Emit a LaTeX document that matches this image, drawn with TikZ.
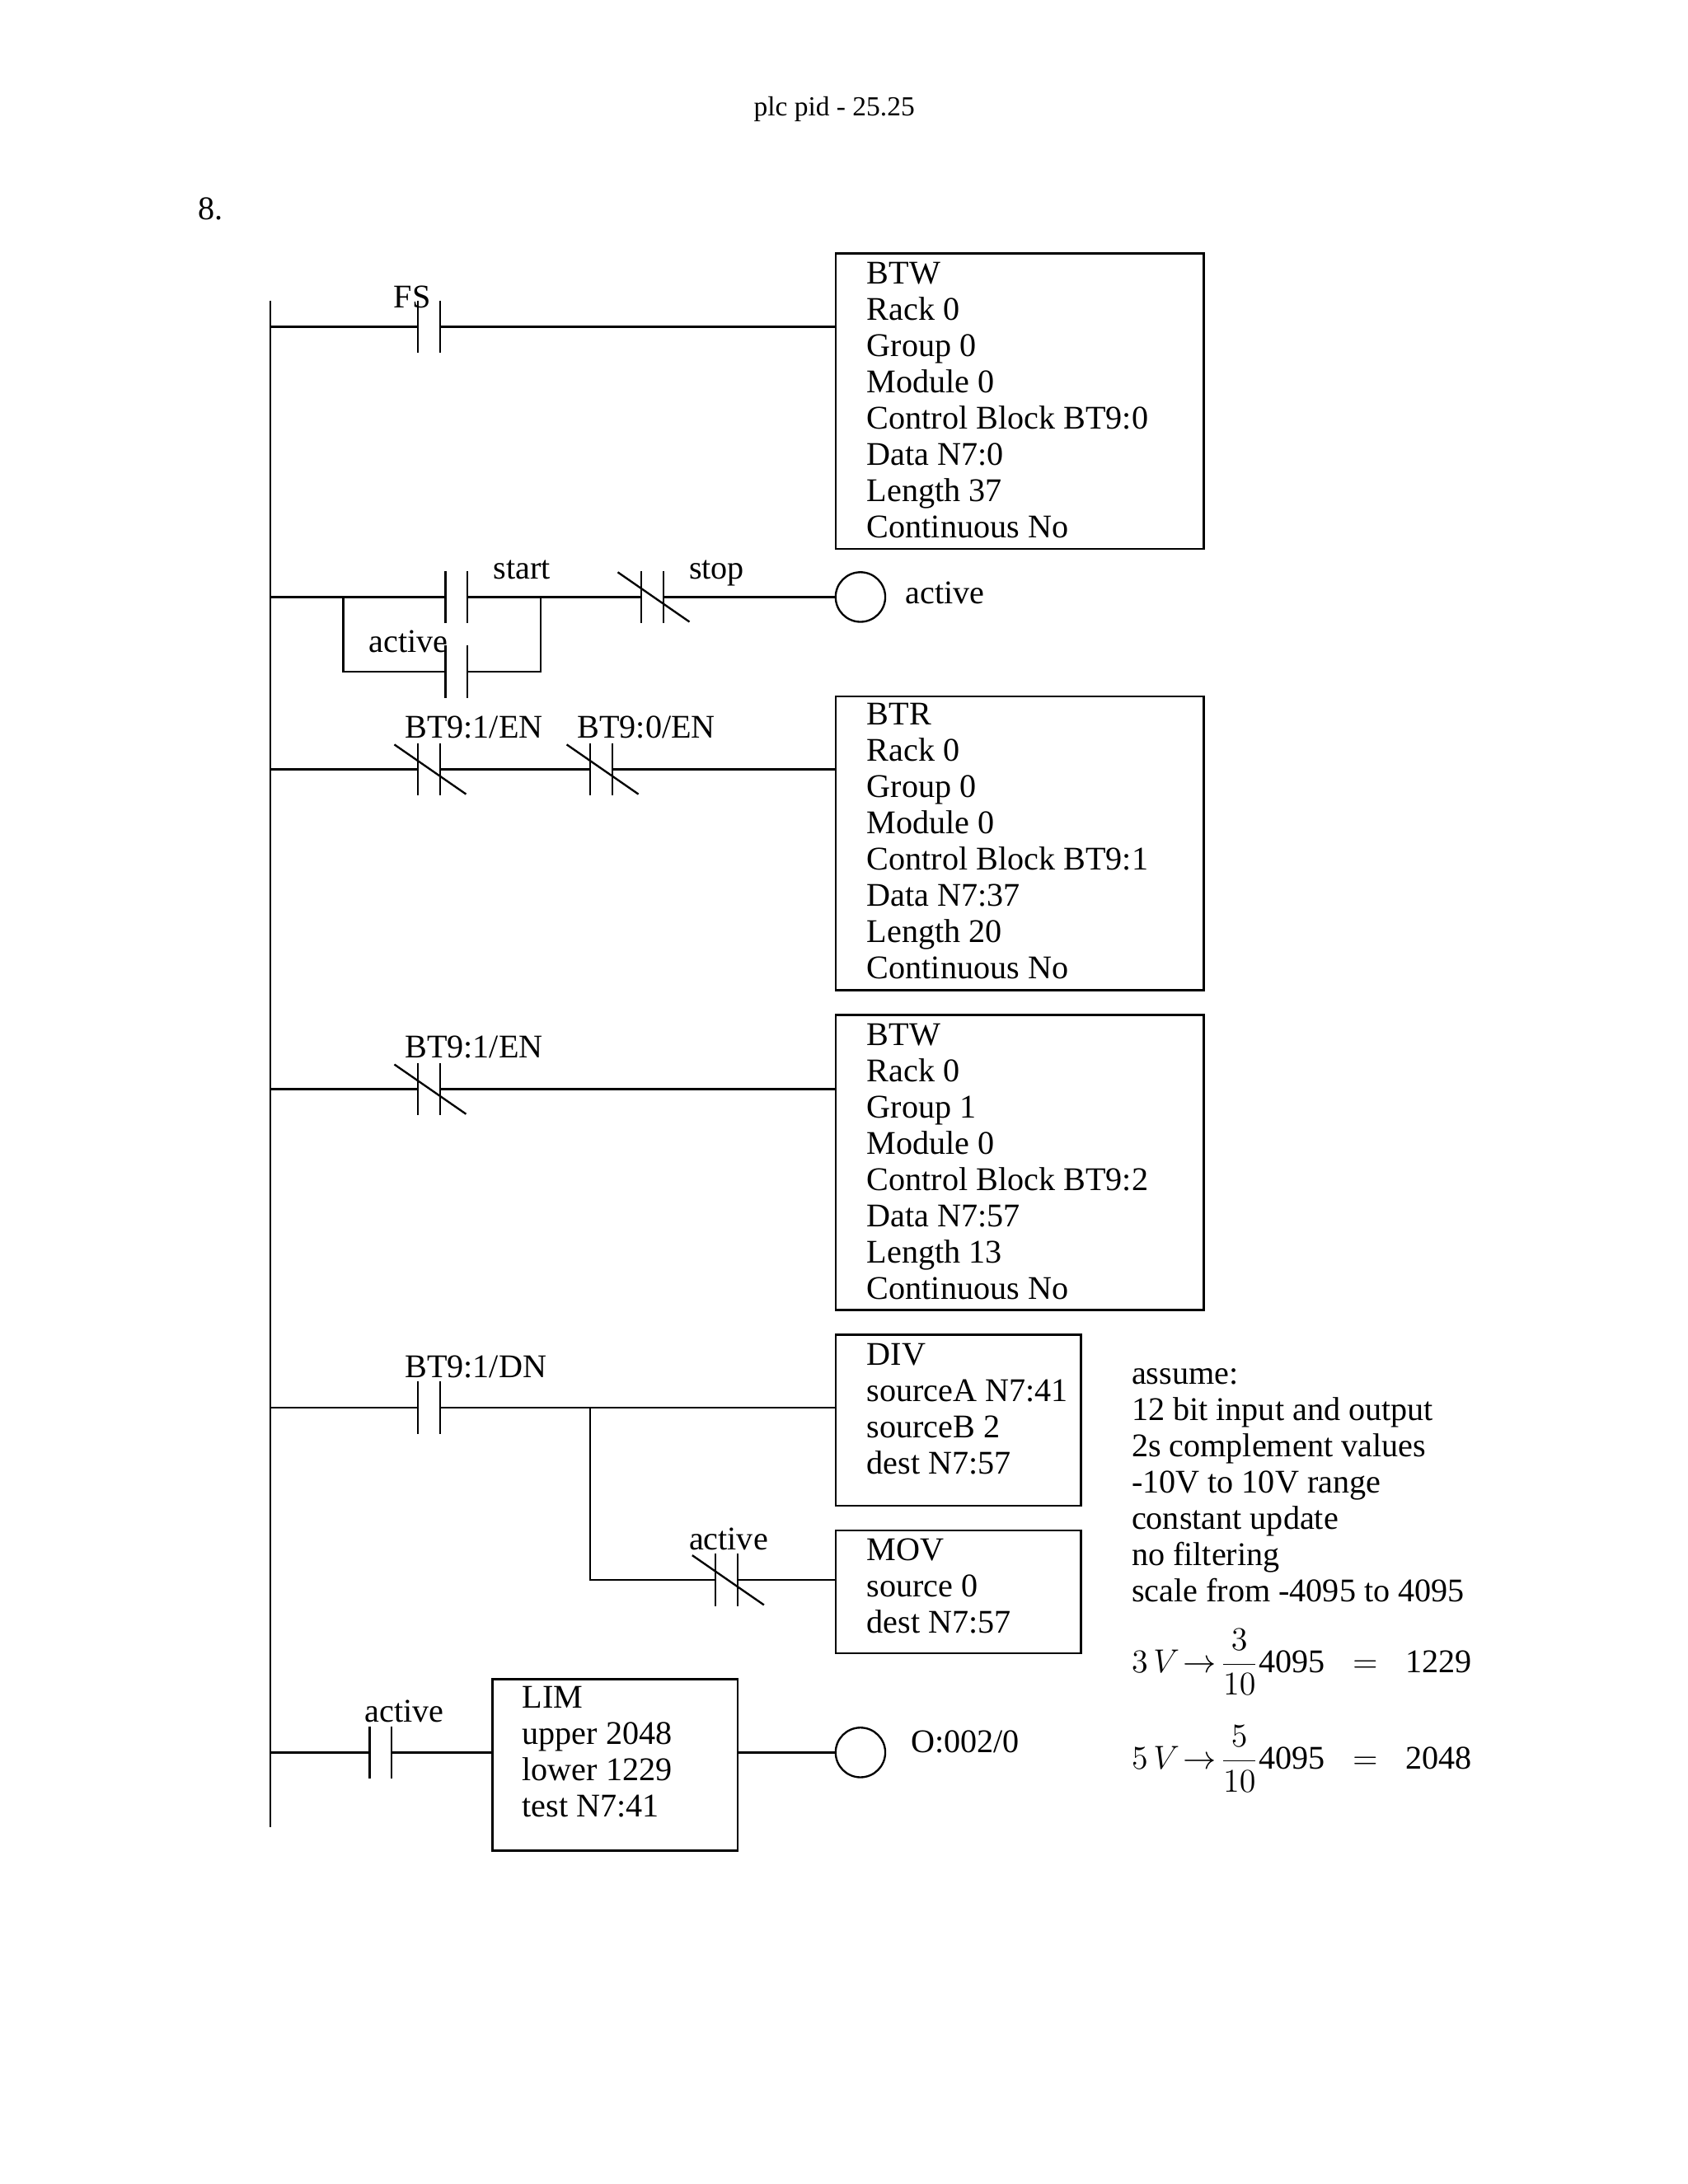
\documentclass[tikz,border=0pt]{standalone}
\usepackage{fontspec}
\setmainfont{Liberation Serif}
\begin{document}
\begin{tikzpicture}[x=0.5pt,y=-0.5pt,line width=0.7pt,
  txt/.style={anchor=base west,inner sep=0pt,font=\fontsize{12}{13.2}\selectfont},
  blk/.style={draw,line width=0.8pt},
  coil/.style={draw,circle,minimum size=18pt,inner sep=0pt}]
\useasboundingbox (0,0) rectangle (1224,1584);
\newcommand\NOc[2]{\draw (#1,#2-19)--(#1,#2+19) (#1+16,#2-19)--(#1+16,#2+19);}
\newcommand\NCc[2]{\NOc{#1}{#2}\draw (#1-17,#2-18)--(#1+35,#2+18);}
\newcommand\boxtext[3]{\foreach \t [count=\i] in {#3} {\node[txt] at (#1,#2+8+26.3*\i-26.3) {\t};}}
\node[font=\fontsize{10}{12}\selectfont,anchor=base] at (605,84) {plc pid - 25.25};
\node[txt] at (143,159) {8.};
% rail
\draw (196,218)--(196,1325);
% rung 1
\NOc{303}{237}
\draw (196,237)--(303,237) (319,237)--(606,237);
\node[txt] at (285,223) {FS};
\draw[blk] (606,184) rectangle (873,398);
\boxtext{628}{198}{BTW,Rack 0,Group 0,Module 0,Control Block BT9:0,Data N7:0,Length 37,Continuous No}
% rung 2
\NOc{323}{433}\NOc{323}{487}\NCc{465}{433}
\draw (196,433)--(323,433) (339,433)--(465,433) (481,433)--(606,433);
\draw (249,433)--(249,487)--(323,487) (339,487)--(392,487)--(392,433);
\node[coil] (c1) at (624,433) {};
\node[txt] at (357,420) {start};
\node[txt] at (499,420) {stop};
\node[txt] at (267,473) {active};
\node[txt] at (656,438) {active};
% rung 3
\NCc{303}{558}\NCc{428}{558}
\draw (196,558)--(303,558) (319,558)--(428,558) (444,558)--(606,558);
\node[txt] at (293,535) {BT9:1/EN};
\node[txt] at (418,535) {BT9:0/EN};
\draw[blk] (606,505) rectangle (873,718);
\boxtext{628}{518}{BTR,Rack 0,Group 0,Module 0,Control Block BT9:1,Data N7:37,Length 20,Continuous No}
% rung 4
\NCc{303}{790}
\draw (196,790)--(303,790) (319,790)--(606,790);
\node[txt] at (293,767) {BT9:1/EN};
\draw[blk] (606,736) rectangle (873,950);
\boxtext{628}{750}{BTW,Rack 0,Group 1,Module 0,Control Block BT9:2,Data N7:57,Length 13,Continuous No}
% rung 5
\NOc{303}{1021}
\draw (196,1021)--(303,1021) (319,1021)--(606,1021);
\node[txt] at (293,999) {BT9:1/DN};
\draw[blk] (606,968) rectangle (784,1092);
\boxtext{628}{982}{DIV,sourceA N7:41,sourceB 2,dest N7:57}
\NCc{519}{1146}
\draw (428,1021)--(428,1146)--(519,1146) (535,1146)--(606,1146);
\node[txt] at (499,1124) {active};
\draw[blk] (606,1110) rectangle (784,1199);
\boxtext{628}{1124}{MOV,source 0,dest N7:57}
% rung 6
\NOc{268}{1271}
\draw (196,1271)--(268,1271) (284,1271)--(357,1271) (535,1271)--(606,1271);
\node[txt] at (264,1249) {active};
\draw[blk] (357,1218) rectangle (535,1342);
\boxtext{378}{1231}{LIM,upper 2048,lower 1229,test N7:41}
\node[coil] (c2) at (624,1271) {};
\node[txt] at (660,1271) {O:002/0};
% notes
\boxtext{820}{996}{assume:,12 bit input and output,2s complement values,-10V to 10V range,constant update,no filtering,scale from -4095 to 4095}
\node[txt] at (820,1213) {$3\,V\!\rightarrow\!\displaystyle\frac{3}{10}\mathrm{4095}\;\;=\;\;\mathrm{1229}$};
\node[txt] at (820,1283) {$5\,V\!\rightarrow\!\displaystyle\frac{5}{10}\mathrm{4095}\;\;=\;\;\mathrm{2048}$};
\end{tikzpicture}
\end{document}
